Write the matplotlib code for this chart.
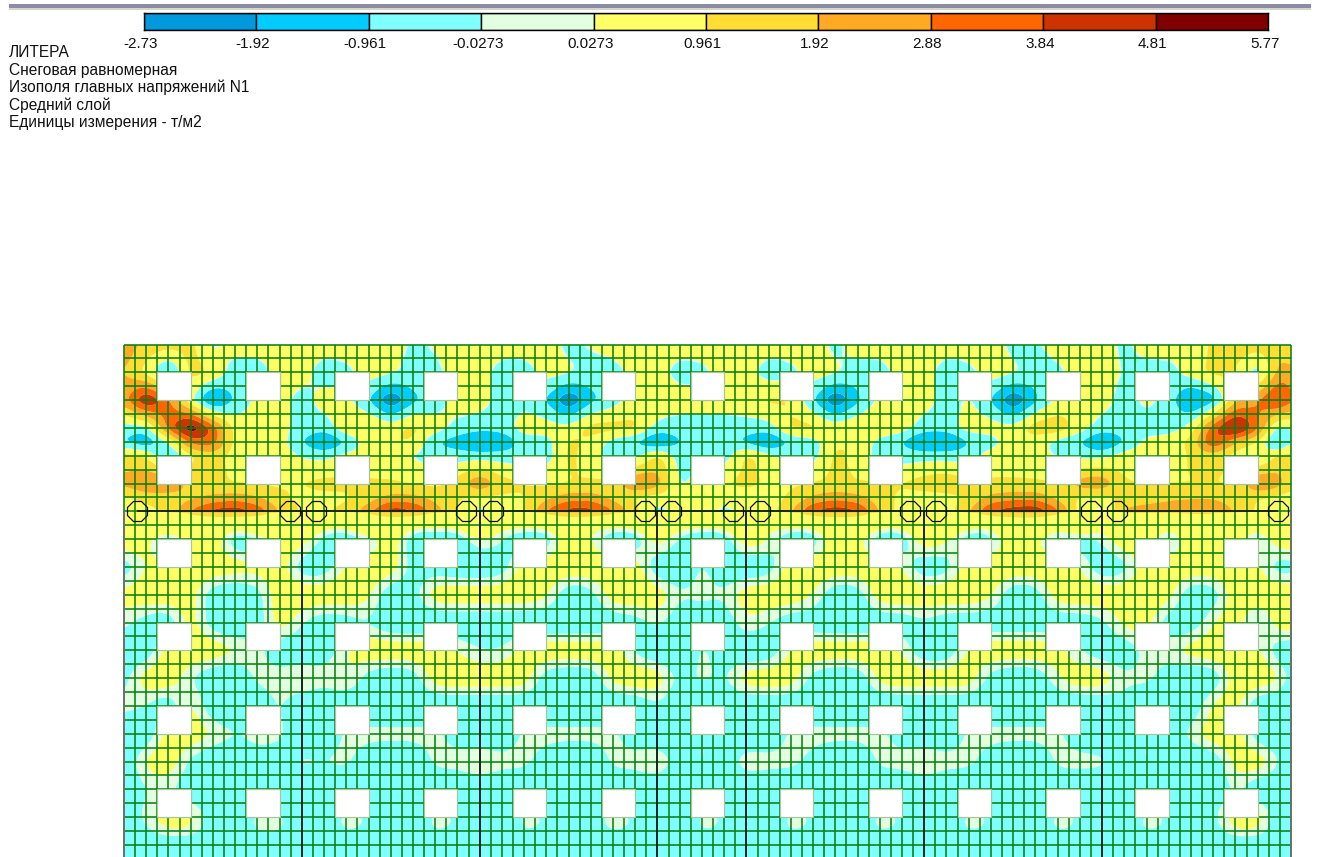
import numpy as np
import matplotlib
matplotlib.use('Agg')
import matplotlib.pyplot as plt
from matplotlib.patches import Rectangle

plt.rcParams['font.family'] = ['Liberation Sans', 'DejaVu Sans']

# legend of the isofields
LEVELS = [-2.73, -1.92, -0.961, -0.0273, 0.0273, 0.961, 1.92, 2.88, 3.84, 4.81, 5.77]
LEVEL_LABELS = ['-2.73', '-1.92', '-0.961', '-0.0273', '0.0273', '0.961', '1.92', '2.88', '3.84', '4.81', '5.77']
BAND_COLORS = ['#0099dd', '#00ccff', '#80ffff', '#e2ffe0', '#ffff66', '#ffdd33', '#ffaa22', '#ff6600', '#cc3300', '#800000']
TITLE_LINES = ['ЛИТЕРА', 'Снеговая равномерная', 'Изополя главных напряжений N1', 'Средний слой', 'Единицы измерения - т/м2']

# plate mesh, in cells
N_COLS = 105
N_ROWS = 37
WINDOW_COLS = [3, 11, 19, 27, 35, 43, 51, 59, 67, 75, 83, 91, 99]
WINDOW_ROWS = [2, 8, 14, 20, 26, 32]
WALL_COLS = [16, 32, 48, 56, 72, 88]
WALL_ROW = 12
COLUMN_MARKS = [1.2, 14.9, 17.3, 30.8, 33.2, 46.9, 49.2, 54.8, 57.2, 70.7, 73.1, 87.0, 89.3, 103.8]

# stress N1, t/m2
FIELD_COLS = list(range(0, 105, 2)) + [105]
FIELD_ROWS = [0, 2, 4, 6, 7, 8, 10, 11, 12, 12.3, 13, 14, 16, 18, 20, 22, 24, 26, 28, 30, 32, 34, 35, 36, 37]
FIELD = [
    [2.6,1.6,1.4,1.3,-.3,.5,.5,.5,.5,  .5,.5,.5,.5,-.2,.1,.5,.5,.5,  .5,.5,-.3,.1,.5,.5,.5,.5,.5,  .5,.5,.5,.5,.5,-.3,.5,.5,.5,  .5,.5,.5,.5,-.3,-.2,.5,.5,.5,  -.3,.5,.5,-.1,1.3,1.5,1.5,1.4,.8],
    [2.0,.6,-1.5,1.4,.9,-.6,-.6,.5,.5,  -.6,-.3,.5,.2,-.4,-.3,.5,.5,-.5,  -.5,.4,.2,-.5,-.5,.5,.5,-.5,-.3,  .5,.5,-.6,-.3,.5,.2,-.5,-.5,.5,  .5,-.6,-.3,.5,.2,-.5,-.3,.5,.5,  -.1,-.5,-.4,.5,1.3,1,-.8,2.6,2.2],
    [2.4,5.2,3.2,.2,-2.6,-.8,.3,.5,-.5,  .5,.3,-.9,-3,-1.2,-.5,.5,.5,-.5,  -.2,-1,-3,-1.2,-.5,.6,.8,.5,.5,  .5,.7,1.2,1,-.9,-3,-1.2,.3,.5,  .5,-.5,.2,-1,-3,-1.2,.3,.5,.5,  -.5,.3,-.4,-2.4,-1.6,1.8,2.8,4.6,2.8],
    [-.5,-.5,3.4,6,3.6,.5,.5,.3,-.3,  -.6,.8,1.2,.6,1.3,.5,-.3,-.6,-.5,  .5,.5,.3,1.4,1.4,1.2,-.4,-.5,-.5,  -.5,-.5,-.5,1.2,1.3,.6,1,1,.5,  -.5,-.5,.5,.5,.3,1.6,1.7,.5,-.5,  -.5,-.5,-.5,.3,3.6,5.8,3.2,-.8,.3],
    [-1,-2,0,3.4,3.6,.5,.5,.5,-1,  -2.3,-1,.5,1,1,-1,-1.5,-2.3,-2,  -.5,-.5,1.2,.8,-.5,-1,-2.3,-1,-.5,  -.5,-1.3,-2.3,-.8,-.5,.8,1,-.5,-1,  -2.3,-2.3,-1,-.5,.7,.5,-.4,-1,-2.3,  -1,.3,.5,1.2,4.2,2,1,-2,.3],
    [1.4,1,-1.5,.8,1.5,.5,.5,.5,-.1,  -.3,.3,.4,.2,-.1,-.5,-.5,-.5,-.5,  -.5,-.6,1.3,.4,-.5,-.5,1.3,-.5,-.5,  -.6,1.3,.4,-.5,-.5,1.3,.6,-.5,-.5,  -.4,-.4,-.5,.5,.5,.3,-.1,-.3,-.3,  .5,.5,-.3,1.3,1.5,.5,-.5,1.4,1.2],
    [2.2,3,3.2,1.5,1.2,.9,.9,.8,1,  1.3,1.2,1.1,1.1,.9,.7,1.4,3,1.4,  1,.8,.9,1.1,1.2,3.2,2.6,-.3,.6,  1,1.2,.9,.8,1,1.2,1,1.1,1,  1.5,1.8,1.2,1.1,1.1,1.1,1,2.5,2.8,  1,1,1,.9,.9,.9,3.2,2.4,1.2],
    [.8,1.4,1.3,1.7,2.1,2.4,2,1.2,.7,  .7,.8,1.4,2.2,2.2,1.6,1,.8,.8,  .9,1.7,2.4,2.4,1.6,.8,.5,.5,.5,  .5,.5,.5,1.1,2.1,2.5,2.2,1.3,.8,  .5,.6,1.1,2.2,2.5,2.5,1.6,.8,.7,  1.1,1.3,1.7,1.8,1.8,1.4,1,.7,.5],
    [-.3,.6,1.2,3,4.3,4.6,3.7,1.8,.8,  .9,1.2,2.6,4.6,4.1,2.4,1,-.5,.5,  .8,3,4.4,4.4,3,1.3,-.5,.5,.6,  -.4,.4,.5,1.8,4,4.6,4.1,1.8,.5,  .5,.5,1.8,4,4.5,4.8,3.2,.5,-.5,  2.2,2.6,2.6,2.8,2.9,1.8,.8,-.4,.5],
    [.5,.5,.5,.5,.5,.5,.5,.5,.5,  .5,.5,.5,.5,.5,.5,.5,.5,.5,  .5,.5,.5,.5,.5,.5,.5,.5,.5,  .5,.5,.5,.5,.5,.5,.5,.5,.5,  .5,.5,.5,.5,.5,.5,.5,.5,.5,  .5,.5,.5,.5,.5,.5,.5,.5,.5],
    [.3,.2,.3,.3,.3,.03,.3,.3,.3,  .03,.03,.3,.3,.03,.03,.03,.3,.03,  .03,.03,.3,.03,.03,.03,.3,.03,.03,  .03,.3,.03,.03,.03,.3,.3,.03,.03,  .3,.3,.03,.03,.3,.3,.03,.3,.03,  .3,.3,.03,.3,.3,.3,.03,.3,.3],
    [.1,.1,-.2,.1,.1,-.12,-.12,.1,.08,  -.08,-.12,-.08,.12,-.12,-.12,-.12,.04,-.03,  -.12,-.12,.12,.04,-.12,-.12,.1,-.06,-.12,  -.12,.12,.03,-.12,-.12,.12,.06,-.12,-.12,  .12,.04,-.12,-.08,.12,.04,-.08,-.1,-.03,  .12,.08,-.12,.12,.12,.04,-.08,.1,.1],
    [-.1,.04,.1,.1,.1,.08,.06,.1,-.1,  -.1,.06,.1,.1,-.08,-.08,-.12,-.12,-.1,  .1,.1,.1,.1,.1,.1,-.12,-.12,0,  -.1,-.12,-.1,.1,.1,.1,.1,.1,.04,  -.12,-.08,.1,.1,.1,.1,.1,.04,-.12,  -.08,.1,.1,.1,.1,.1,.06,-.1,-.06],
    [.06,.1,.1,.08,-.1,-.12,-.08,.1,.1,  .1,.1,.06,-.12,-.08,.1,.1,.1,.1,  .1,.06,-.12,-.08,.1,.1,.1,-.03,0,  -.03,.1,.1,.1,.04,-.12,-.1,.1,.1,  .1,.1,.1,.06,-.12,-.1,.1,.1,.1,  .1,.1,.08,-.12,-.1,.1,.1,.1,.1],
    [0,-.08,-.12,.1,-.1,-.12,-.1,.1,-.03,  -.1,-.08,-.03,-.12,-.12,-.12,-.12,-.12,-.12,  -.12,-.12,-.12,-.12,-.1,-.08,0,-.1,-.1,  -.1,.03,-.03,-.1,-.1,-.12,-.12,-.1,-.1,  -.04,-.1,-.1,-.1,-.1,-.1,-.1,-.1,-.06,  .06,.08,-.1,-.1,.03,.1,-.1,.1,.08],
    [-.1,-.12,.1,.1,.1,.04,0,-.1,-.12,  -.1,.03,.1,.1,.1,.1,.03,-.03,-.03,  .08,.1,.1,.1,.1,-.06,-.12,-.12,0,  -.08,-.12,-.12,.06,.1,.1,.1,.1,.03,  -.12,-.12,.06,.1,.1,.1,.08,-.03,-.1,  -.1,0,0,.08,.1,.1,.06,-.1,-.1],
    [-.08,.1,.1,-.03,-.12,-.12,0,0,.06,  0,.06,-.08,-.12,-.1,.1,.1,.1,.1,  .1,-.1,-.12,-.12,.08,.1,.1,-.08,0,  -.06,.1,.1,.1,-.08,-.12,-.12,.08,.1,  .1,.1,.1,-.08,-.12,-.12,.03,.1,.1,  -.03,0,-.08,-.12,-.12,.1,.1,.06,-.1],
    [0,-.03,-.12,.08,-.12,-.12,-.12,0,-.12,  -.12,-.12,-.12,-.12,-.12,-.12,-.12,-.12,-.12,  -.12,-.12,-.12,-.12,-.12,-.12,-.03,-.12,-.12,  -.12,-.12,-.12,-.12,-.12,-.12,-.12,-.12,-.12,  -.12,-.12,-.12,-.12,-.12,-.12,-.12,-.12,-.12,  -.04,-.12,-.12,-.12,.06,.08,-.12,-.12,-.12],
    [-.12,-.12,.1,.1,.03,-.03,0,0,-.12,  -.12,0,0,0,0,0,-.08,-.12,-.12,  0,0,0,0,0,-.1,-.12,-.12,0,  -.1,-.12,-.12,0,0,0,0,0,-.08,  -.12,-.12,0,0,0,0,0,-.1,-.12,  -.12,0,-.1,0,.1,.1,-.1,-.12,-.12],
    [-.12,.06,.1,-.06,-.12,-.12,-.06,-.1,0,  -.03,0,-.1,-.12,-.12,0,0,.06,0,  0,-.08,-.12,-.12,0,0,.06,-.1,0,  -.1,.03,0,0,-.06,-.12,-.12,0,0,  .06,0,0,-.08,-.12,-.12,0,0,0,  -.1,0,-.1,-.12,-.12,.08,.1,-.03,-.12],
    [-.12,-.03,0,-.12,-.12,-.12,-.12,-.12,-.12,  -.12,-.12,-.12,-.12,-.12,-.12,-.12,-.12,-.12,  -.12,-.12,-.12,-.12,-.12,-.12,-.12,-.12,-.12,  -.12,-.12,-.12,-.12,-.12,-.12,-.12,-.12,-.12,  -.12,-.12,-.12,-.12,-.12,-.12,-.12,-.12,-.12,  -.12,-.12,-.12,-.12,-.12,0,-.12,-.12,-.12],
    [-.12,0,.1,.08,-.1,-.12,0,0,-.12,  -.08,0,-.03,-.12,-.1,0,-.03,-.12,-.12,  0,-.03,-.12,-.06,0,-.03,-.12,-.12,0,  -.03,-.12,-.1,0,-.03,-.12,-.1,0,-.03,  -.12,-.1,0,-.03,-.12,-.1,0,-.03,-.12,  -.1,0,-.03,-.12,-.06,.1,.1,-.12,-.12],
    [-.12,-.05,.03,.02,-.1,-.12,-.01,-.01,-.12,  -.1,-.01,-.05,-.12,-.1,-.01,-.05,-.12,-.12,  -.01,-.05,-.12,-.08,-.01,-.05,-.12,-.12,-.01,  -.05,-.12,-.1,-.01,-.05,-.12,-.1,-.01,-.05,  -.12,-.1,-.01,-.05,-.12,-.1,-.01,-.05,-.12,  -.1,-.01,-.05,-.12,-.08,.03,.03,-.12,-.12],
    [-.12,-.12,-.12,-.12,-.12,-.12,-.12,-.12,-.12,  -.12,-.12,-.12,-.12,-.12,-.12,-.12,-.12,-.12,  -.12,-.12,-.12,-.12,-.12,-.12,-.12,-.12,-.12,  -.12,-.12,-.12,-.12,-.12,-.12,-.12,-.12,-.12,  -.12,-.12,-.12,-.12,-.12,-.12,-.12,-.12,-.12,  -.12,-.12,-.12,-.12,-.12,-.12,-.12,-.12,-.12],
    [-.12,-.12,-.12,-.12,-.12,-.12,-.12,-.12,-.12,  -.12,-.12,-.12,-.12,-.12,-.12,-.12,-.12,-.12,  -.12,-.12,-.12,-.12,-.12,-.12,-.12,-.12,-.12,  -.12,-.12,-.12,-.12,-.12,-.12,-.12,-.12,-.12,  -.12,-.12,-.12,-.12,-.12,-.12,-.12,-.12,-.12,  -.12,-.12,-.12,-.12,-.12,-.12,-.12,-.12,-.12],
]

W, H = 1317, 857
fig = plt.figure(figsize=(W / 100, H / 100), dpi=100, facecolor='white')


def px_axes(left, top, right, bottom):
    return fig.add_axes([left / W, 1 - bottom / H, (right - left) / W, (bottom - top) / H])


def box_blur(a, n, passes=2):
    # plain box filter with replicated edges, along both axes
    k = np.ones(2 * n + 1) / (2 * n + 1)
    for _ in range(passes):
        for axis in (0, 1):
            p = [(n, n) if i == axis else (0, 0) for i in range(2)]
            a = np.apply_along_axis(lambda v: np.convolve(v, k, mode='valid'), axis, np.pad(a, p, mode='edge'))
    return a


# round off the nodes read from the picture so the isolines are not faceted,
# above and below the wall separately (the stress jumps there)
raw = np.array(FIELD, dtype=float)
xf = np.arange(0, N_COLS + 0.01, 0.25)
yf = np.arange(0, N_ROWS + 0.01, 0.125)
by_col = np.array([np.interp(xf, FIELD_COLS, row) for row in raw])
fine = np.array([np.interp(yf, FIELD_ROWS, by_col[:, j]) for j in range(len(xf))]).T
cut = int(np.searchsorted(yf, WALL_ROW, side='right'))
upper = box_blur(fine[:cut], 2)
lower = box_blur(fine[cut:], 3) * 0.9  # keeps the pale band about as wide as in the picture
smooth = np.clip(np.vstack([upper, lower]), LEVELS[0] + 0.01, LEVELS[-1] - 0.01)

# window frame strip and the caption, in pixels
bg = px_axes(0, 0, W, H)
bg.set_xlim(0, W)
bg.set_ylim(H, 0)
bg.axis('off')
bg.add_patch(Rectangle((9, 4), 1302, 3.5, color='#8c8ca4', lw=0))
bg.add_patch(Rectangle((9, 7.5), 1302, 2, color='#d4d6cc', lw=0))
for i, line in enumerate(TITLE_LINES):
    bg.text(9, 52 + 17.3 * i + (1 if i else 0), line, fontsize=11.2, va='center', ha='left', color='#111111')

# colour scale
cb = px_axes(144, 13, 1268, 30)
cb.bar(range(10), [1] * 10, width=1, align='edge', color=BAND_COLORS, edgecolor='black', linewidth=1)
cb.set_xlim(0, 10)
cb.set_ylim(0, 1)
cb.set_xticks([])
cb.set_yticks([])
for i, label in enumerate(LEVEL_LABELS):
    # labels sit a little left of their boundary
    cb.text(i - 0.03, -0.8, label, fontsize=11, color='#111111', ha='center', va='center', clip_on=False)
for s in cb.spines.values():
    s.set_linewidth(1)

# plate
ax = px_axes(124, 344.5, 1291, 857)
ax.set_xlim(0, N_COLS)
ax.set_ylim(36.87, 0)
ax.axis('off')
ax.contourf(xf, yf, smooth, levels=LEVELS, colors=BAND_COLORS, antialiased=True)

ax.vlines(range(N_COLS + 1), 0, N_ROWS, color='#0c7f14', lw=1.15, clip_on=False, zorder=3)
ax.hlines(range(N_ROWS), 0, N_COLS, color='#0c7f14', lw=1.15, clip_on=False, zorder=3)

for c in WINDOW_COLS:
    for r in WINDOW_ROWS:
        ax.add_patch(Rectangle((c, r), 3, 2, facecolor='white', edgecolor='#a8c4a0', lw=0.9, zorder=4))

# walls and columns
ax.vlines(WALL_COLS, WALL_ROW, N_ROWS, color='#101018', lw=1.15, zorder=5)
ax.vlines([0, N_COLS], WALL_ROW, N_ROWS, color='#707070', lw=1.3, clip_on=False, zorder=5)
ax.hlines(WALL_ROW, COLUMN_MARKS[0], COLUMN_MARKS[-1], color='#101010', lw=1.15, zorder=5)
ax.plot(COLUMN_MARKS, [WALL_ROW] * len(COLUMN_MARKS), ls='none', marker='8', ms=15.5, mfc='none',
        mec='#101010', mew=0.9, zorder=6, clip_on=False)

fig.savefig('out.png', dpi=100)
